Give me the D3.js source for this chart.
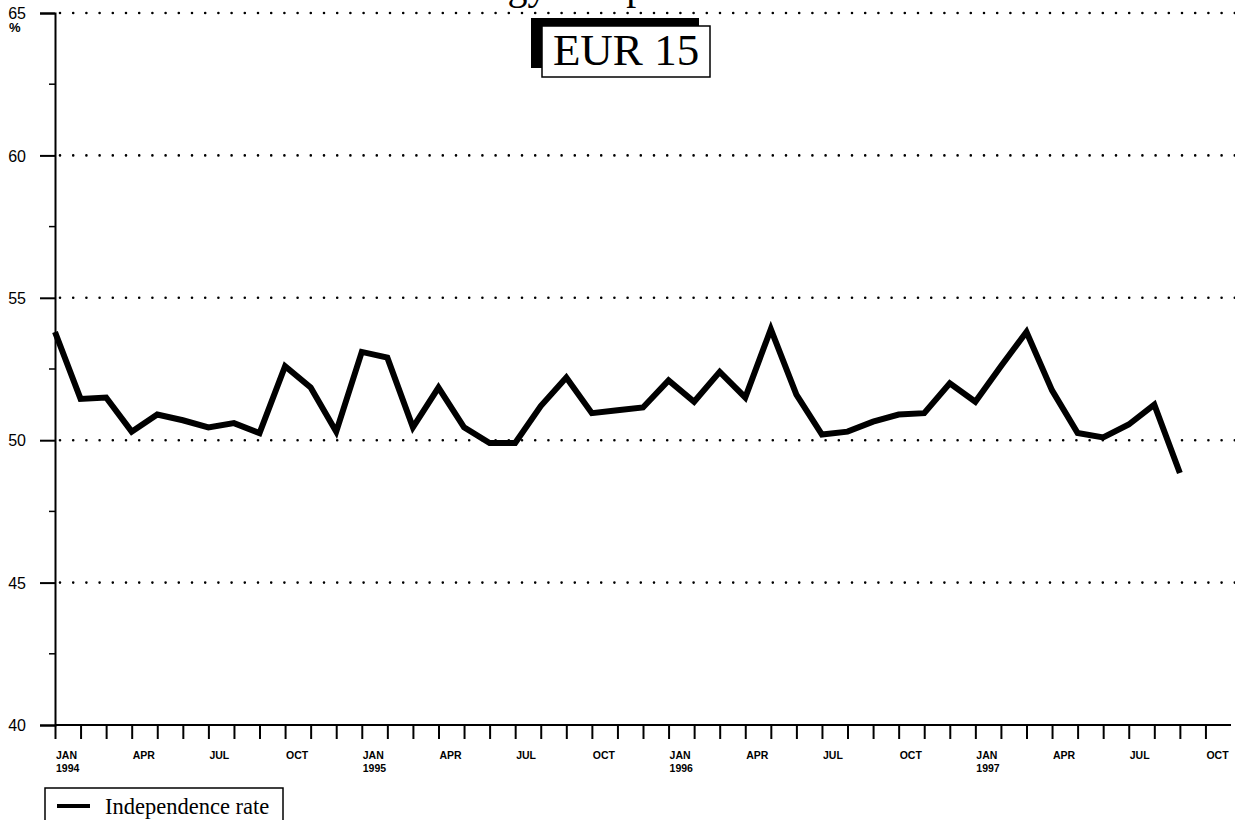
<!DOCTYPE html>
<html>
<head>
<meta charset="utf-8">
<script src="https://cdn.jsdelivr.net/npm/d3@7"></script>
<style>
  body { margin: 0; background: #fff; }
  svg { display: block; }
</style>
</head>
<body>
<script>
// monthly independence rate, EUR 15, Jan 1994 - Sep 1997 (%)
var months = ["JAN","FEB","MAR","APR","MAY","JUN","JUL","AUG","SEP","OCT","NOV","DEC"];
var years = ["1994","1995","1996","1997"];
var rate = [
  53.8, 51.45, 51.5, 50.3, 50.9, 50.7, 50.45, 50.6, 50.25, 52.6, 51.85, 50.3,
  53.1, 52.9, 50.45, 51.85, 50.45, 49.9, 49.9, 51.2, 52.2, 50.95, 51.05, 51.15,
  52.1, 51.35, 52.4, 51.5, 53.9, 51.6, 50.2, 50.3, 50.65, 50.9, 50.95, 52.0,
  51.35, 52.6, 53.8, 51.75, 50.25, 50.1, 50.55, 51.25, 48.85
];
var yTicks = [40, 45, 50, 55, 60, 65];
var gridVals = [45, 50, 55, 60, 65];

var width = 1235,
    height = 820;

var svg = d3.select("body")
    .append("svg")
    .attr("width", width)
    .attr("height", height);

var x = d3.scaleLinear()
    .domain([0, 46])
    .range([55, 1231]);

var y = d3.scaleLinear()
    .domain([40, 65])
    .range([725, 13]);

// title, mostly above the page edge (as in the scan)
svg.append("text")
    .attr("x", 605)
    .attr("y", -1)
    .attr("text-anchor", "middle")
    .style("font-family", "Liberation Serif")
    .style("font-size", "40px")
    .text("Energy independence");

// dotted grid
svg.append("g")
    .selectAll("line")
    .data(gridVals)
    .enter().append("line")
      .attr("x1", 60)
      .attr("x2", width)
      .attr("y1", function(d) { return y(d); })
      .attr("y2", function(d) { return y(d); })
      .attr("stroke", "#000")
      .attr("stroke-width", 2.6)
      .attr("stroke-linecap", "round")
      .attr("stroke-dasharray", "0,13.2");

// y axis
var yAxis = svg.append("g")
    .attr("transform", "translate(55,0)")
    .call(d3.axisLeft(y).tickValues(yTicks).tickSize(15).tickFormat(d3.format("d")));
yAxis.select(".domain").attr("stroke-width", 2);
yAxis.selectAll(".tick line").attr("stroke-width", 2);
yAxis.selectAll(".tick text")
    .attr("x", -29)
    .attr("dy", "0.36em")
    .style("font-family", "Liberation Sans")
    .style("font-size", "16px")
    .attr("fill", "#000");

// minor y ticks
svg.append("g")
    .selectAll("line")
    .data(d3.range(42.5, 65, 5))
    .enter().append("line")
      .attr("x1", 49)
      .attr("x2", 55)
      .attr("y1", function(d) { return y(d); })
      .attr("y2", function(d) { return y(d); })
      .attr("stroke", "#000")
      .attr("stroke-width", 1.5);

svg.append("text")
    .attr("x", 9)
    .attr("y", 32)
    .style("font-family", "Liberation Sans")
    .style("font-weight", "bold")
    .style("font-size", "13px")
    .text("%");

// x axis, one tick per month
var xAxis = svg.append("g")
    .attr("transform", "translate(0," + y(40) + ")")
    .call(d3.axisBottom(x).tickValues(d3.range(0, 46)).tickSize(14).tickFormat(""));
xAxis.select(".domain").attr("stroke-width", 2).attr("d", "M55,0H1231");
xAxis.selectAll(".tick line").attr("stroke-width", 2);

var quarterTicks = d3.range(0, 46, 3);
var xl = svg.append("g")
    .style("font-family", "Liberation Sans")
    .style("font-weight", "bold")
    .style("font-size", "10.5px");

xl.selectAll("text.m")
    .data(quarterTicks)
    .enter().append("text")
      .attr("class", "m")
      .attr("x", function(d) { return x(d) + 1; })
      .attr("y", 759)
      .text(function(d) { return months[d % 12]; });

xl.selectAll("text.yr")
    .data(quarterTicks.filter(function(d) { return d % 12 === 0; }))
    .enter().append("text")
      .attr("class", "yr")
      .attr("x", function(d) { return x(d) + 1; })
      .attr("y", 772)
      .text(function(d) { return years[d / 12]; });

// series
var line = d3.line()
    .x(function(d, i) { return x(i); })
    .y(function(d) { return y(d); });

svg.append("path")
    .datum(rate)
    .attr("fill", "none")
    .attr("stroke", "#000")
    .attr("stroke-width", 6)
    .attr("stroke-linejoin", "miter")
    .attr("d", line);

// EUR 15 label box
svg.append("rect")
    .attr("x", 531).attr("y", 18)
    .attr("width", 168).attr("height", 50)
    .attr("fill", "#000");
svg.append("rect")
    .attr("x", 542).attr("y", 26)
    .attr("width", 168).attr("height", 51)
    .attr("fill", "#fff")
    .attr("stroke", "#000")
    .attr("stroke-width", 1.5);
svg.append("text")
    .attr("x", 626)
    .attr("y", 65)
    .attr("text-anchor", "middle")
    .style("font-family", "Liberation Serif")
    .style("font-size", "45px")
    .text("EUR 15");

// legend
var legend = svg.append("g");
legend.append("rect")
    .attr("x", 45).attr("y", 788)
    .attr("width", 238).attr("height", 50)
    .attr("fill", "#fff")
    .attr("stroke", "#000")
    .attr("stroke-width", 1.5);
legend.append("line")
    .attr("x1", 57).attr("x2", 90)
    .attr("y1", 806).attr("y2", 806)
    .attr("stroke", "#000")
    .attr("stroke-width", 4);
legend.append("text")
    .attr("x", 105)
    .attr("y", 814)
    .style("font-family", "Liberation Serif")
    .style("font-size", "22.5px")
    .text("Independence rate");
</script>
</body>
</html>
